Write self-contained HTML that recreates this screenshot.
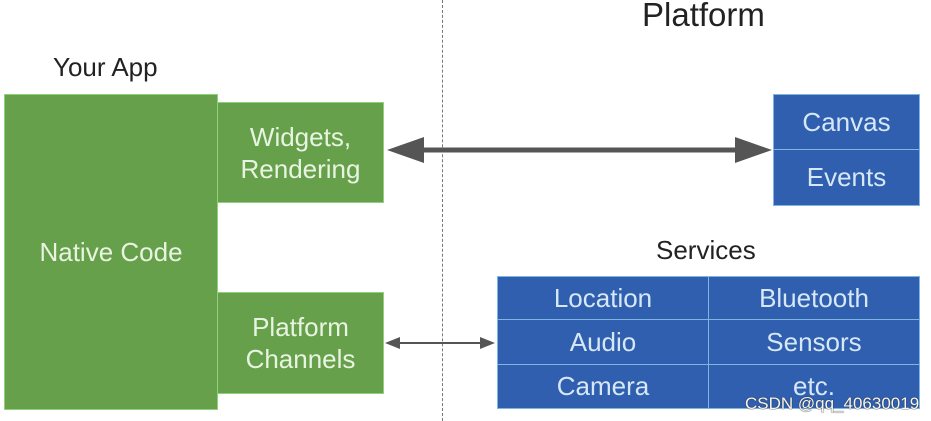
<!DOCTYPE html>
<html><head><meta charset="utf-8"><style>
body{margin:0;width:931px;height:421px;background:#fff;position:relative;overflow:hidden;font-family:"Liberation Sans",Arial,sans-serif}
.a{position:absolute}
.g{position:absolute;background:#67a04a;border:1px solid #8fd07a;box-sizing:border-box;color:#e8f4e2;font-size:26px;display:flex;align-items:center;justify-content:center;text-align:center;line-height:32px}
.b{position:absolute;background:#2f5fae;border:1px solid #7fb6e0;box-sizing:border-box;color:#d6e8f6;font-size:26px;display:flex;align-items:center;justify-content:center}
.t{position:absolute;color:#222;white-space:nowrap}
</style></head><body>
<div class="t" style="left:642px;top:-4px;font-size:33px">Platform</div>
<div class="t" style="left:53px;top:52px;font-size:26px">Your App</div>
<div class="t" style="left:656px;top:235px;font-size:26px">Services</div>
<div class="a" style="left:442px;top:0;height:421px;border-left:1px dashed #777"></div>
<div class="g" style="left:4px;top:94px;width:214px;height:316px">Native Code</div>
<div class="g" style="left:217px;top:102px;width:167px;height:101px">Widgets,<br>Rendering</div>
<div class="g" style="left:217px;top:292px;width:167px;height:102px">Platform<br>Channels</div>
<div class="b" style="left:773px;top:94px;width:147px;height:56px">Canvas</div>
<div class="b" style="left:773px;top:149px;width:147px;height:57px">Events</div>
<div class="b" style="left:497px;top:276px;width:212px;height:44px">Location</div>
<div class="b" style="left:708px;top:276px;width:212px;height:44px">Bluetooth</div>
<div class="b" style="left:497px;top:319px;width:212px;height:46px">Audio</div>
<div class="b" style="left:708px;top:319px;width:212px;height:46px">Sensors</div>
<div class="b" style="left:497px;top:364px;width:212px;height:45px">Camera</div>
<div class="b" style="left:708px;top:364px;width:212px;height:45px">etc.</div>
<svg class="a" style="left:0;top:0" width="931" height="421">
<line x1="420" y1="150" x2="740" y2="150" stroke="#555" stroke-width="5"/>
<polygon points="387,150 424,137 424,163" fill="#555"/>
<polygon points="772,150 735,137 735,163" fill="#555"/>
<line x1="395" y1="343" x2="485" y2="343" stroke="#555" stroke-width="2"/>
<polygon points="385,343 400,337 400,349" fill="#555"/>
<polygon points="495,343 480,337 480,349" fill="#555"/>
</svg>
<div class="t" style="left:745px;top:394px;font-size:17px;color:#f4f4f4;text-shadow:0 0 1px #333,0 0 1px #333">CSDN @qq_40630019</div>
</body></html>
